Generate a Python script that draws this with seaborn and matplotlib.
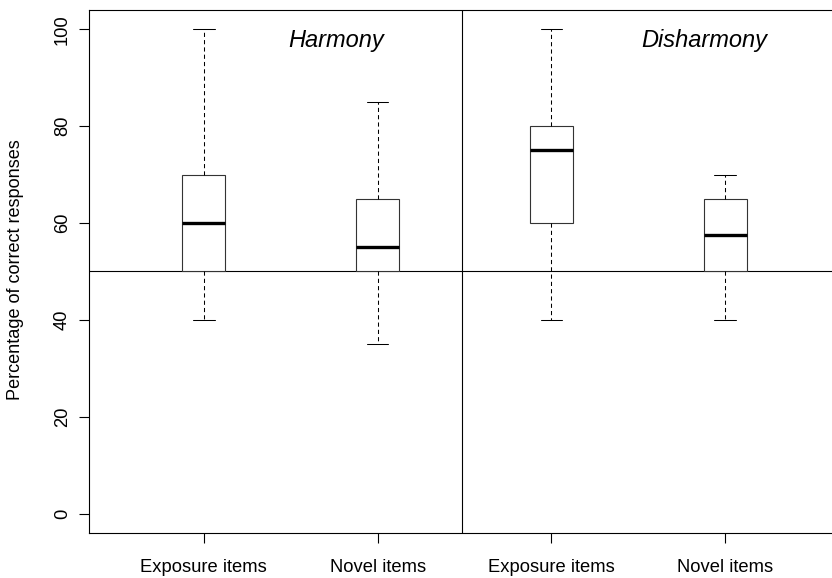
import pandas as pd
import seaborn as sns
import matplotlib.pyplot as plt

# five-number summaries (min, q1, median, q3, max)
groups = ['Harmony exposure', 'Harmony novel', 'Disharmony exposure', 'Disharmony novel']
harmony_exposure = [40, 50, 60, 70, 100]
harmony_novel = [35, 50, 55, 65, 85]
disharmony_exposure = [40, 60, 75, 80, 100]
disharmony_novel = [40, 50, 57.5, 65, 70]
tick_labels = ['Exposure items', 'Novel items', 'Exposure items', 'Novel items']
panel_titles = ['Harmony', 'Disharmony']
chance_level = 50

rows = []
for g, vals in zip(groups, [harmony_exposure, harmony_novel, disharmony_exposure, disharmony_novel]):
    for v in vals:
        rows.append({'item': g, 'pct': v})
df = pd.DataFrame(rows)

sns.set_style('ticks')
plt.rcParams['font.family'] = ['Liberation Sans', 'DejaVu Sans']
plt.rcParams['text.color'] = 'black'
plt.rcParams['axes.labelcolor'] = 'black'
plt.rcParams['xtick.color'] = 'black'
plt.rcParams['ytick.color'] = 'black'

fig = plt.figure(figsize=(8.32, 5.78), dpi=100)
ax = fig.add_axes([0.107, 0.0779, 0.9026, 0.9048])

sns.boxplot(data=df, x='item', y='pct', order=groups, whis=(0, 100), width=0.25,
            color='white', linecolor='#333333', linewidth=0.8, showfliers=False,
            medianprops=dict(color='black', linewidth=2.4),
            whiskerprops=dict(color='black', linestyle=(0, (4, 3)), linewidth=0.75),
            capprops=dict(color='black', linewidth=0.75),
            ax=ax)

ax.axhline(chance_level, color='black', lw=0.8, zorder=1)
ax.axvline(1.487, color='black', lw=0.8, zorder=1)

ax.set_xlim(-0.66, 3.66)
ax.set_ylim(-4, 104)
ax.set_yticks([0, 20, 40, 60, 80, 100])
ax.set_xticks(range(4))
ax.set_xticklabels(tick_labels, fontsize=13.2)
ax.set_yticklabels(['0', '20', '40', '60', '80', '100'], rotation=90, va='center', fontsize=13.2)
ax.tick_params(direction='out', length=7, width=0.8, color='black')
ax.tick_params(axis='y', pad=6)
ax.tick_params(axis='x', pad=12)
ax.set_xlabel('')
ax.set_ylabel('Percentage of correct responses', fontsize=13.1)
ax.yaxis.set_label_coords(-0.0872, 0.503)

for sp in ax.spines.values():
    sp.set_color('black')
    sp.set_linewidth(0.8)

ax.text(0.761, 97.8, panel_titles[0], style='italic', fontsize=17, ha='center', va='center')
ax.text(2.881, 97.8, panel_titles[1], style='italic', fontsize=17, ha='center', va='center')

fig.savefig('out.png', dpi=100)
